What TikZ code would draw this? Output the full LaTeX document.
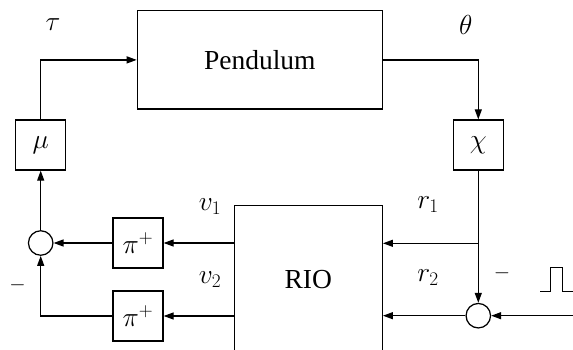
\RequirePackage{fix-cm}
\documentclass[tikz,border=0pt]{standalone}
\usepackage{fontspec}
\setmainfont{Liberation Serif}
\usetikzlibrary{arrows.meta}
\begin{document}
\begin{tikzpicture}[x=1pt,y=-1pt,
  every node/.style={font=\fontsize{27.5}{32}\selectfont, inner sep=0pt},
  blk/.style={draw, line width=1.25pt, rectangle},
  sq/.style={blk, minimum width=50pt, minimum height=50pt},
  sumc/.style={draw, line width=1.25pt, circle, minimum size=24.5pt},
  arr/.style={line width=1.25pt, -{Triangle[length=10pt,width=7pt]}},
  ln/.style={line width=1.25pt}]
\useasboundingbox (0,0) rectangle (573,350);
\clip (0,0) rectangle (573,350);
% blocks
\node[blk, minimum width=245pt, minimum height=98.3pt] (pend) at (259.8,59.9) {Pendulum};
\node[sq] (mu) at (40.7,145) {$\mu$};
\node[sq] (chi) at (478.3,145) {$\chi$};
\node[sumc] (sumL) at (40.7,243) {};
\node[sq] (pi1) at (138,243) {$\pi^+$};
\node[sq] (pi2) at (138,316) {$\pi^+$};
\node[blk, minimum width=148pt, minimum height=148.6pt] (rio) at (308.3,280) {RIO};
\node[sumc] (sumR) at (478.3,315.7) {};
\coordinate (in) at (575,315.7);
\coordinate (br) at (478.3,243.3);
% labels
\node (tau) at (53,25) {$\tau$};
\node (theta) at (465.7,25) {$\theta$};
\node (v1) at (210,207) {$v_1$};
\node (v2) at (210,280) {$v_2$};
\node (r1) at (428,205) {$r_1$};
\node (r2) at (428,278) {$r_2$};
\node[font=\fontsize{21}{24}\selectfont] (mL) at (17.5,285) {$-$};
\node[font=\fontsize{21}{24}\selectfont] (mR) at (502,273) {$-$};
% pulse
\draw[ln] (540,291.7) -- (550.7,291.7) -- (550.7,267.3) -- (562.7,267.3) -- (562.7,291.7) -- (575,291.7);
% connectors
\draw[arr] (mu.north) |- (pend.west);
\draw[arr] (pend.east) -| (chi.north);
\draw[arr] (chi.south) -- (sumR.north);
\draw[arr] (br) -- (rio.east |- br);
\draw[arr] (sumR.west) -- (rio.east |- sumR);
\draw[arr] (in) -- (sumR.east);
\draw[arr] (rio.west |- pi1) -- (pi1.east);
\draw[arr] (pi1.west) -- (sumL.east);
\draw[arr] (rio.west |- pi2) -- (pi2.east);
\draw[arr] (pi2.west) -| (sumL.south);
\draw[arr] (sumL.north) -- (mu.south);
\end{tikzpicture}
\end{document}
